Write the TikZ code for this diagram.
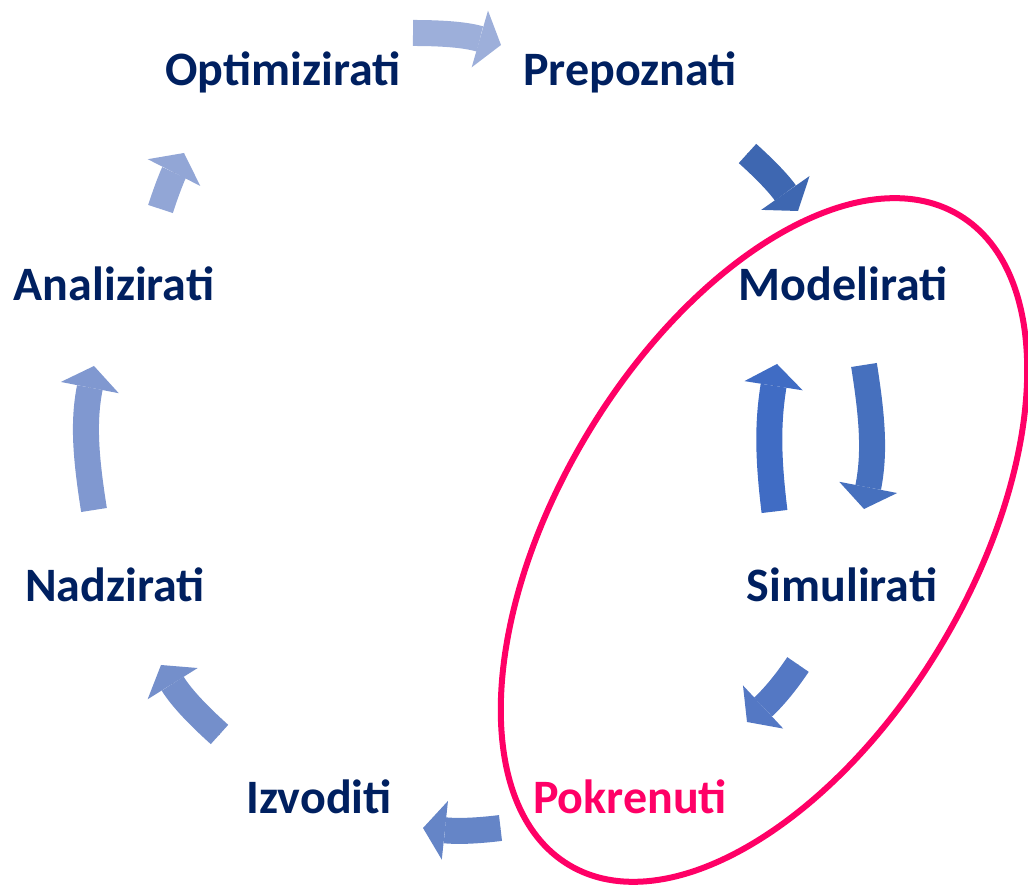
\documentclass[tikz,border=0pt]{standalone}
\usepackage{fontspec}
\setmainfont{Carlito}
\usetikzlibrary{arrows.meta}
\definecolor{navy}{RGB}{0,32,96}
\definecolor{hot}{RGB}{255,0,102}
\definecolor{arA}{RGB}{157,175,218}
\definecolor{arB}{RGB}{62,103,177}
\definecolor{arC}{RGB}{70,112,190}
\definecolor{arD}{RGB}{64,108,196}
\definecolor{arE}{RGB}{84,120,196}
\definecolor{arF}{RGB}{101,133,199}
\definecolor{arG}{RGB}{116,143,203}
\definecolor{arH}{RGB}{128,152,208}
\definecolor{arI}{RGB}{146,166,214}
\begin{document}
\begin{tikzpicture}[x=1pt,y=1pt,line join=round,
	lbl/.style={inner sep=0pt,anchor=base,text=navy,font=\fontsize{48}{52}\selectfont\bfseries},
	blk/.style={line width=26pt,-{Triangle[length=22pt,width=59pt,line width=0pt]},
		preaction={draw,-,shorten >=17pt}}]
	\useasboundingbox (0,0) rectangle (1028,885);
	\draw[hot,line width=6pt,rotate around={59:(764,345)}] (764,345) ellipse [x radius=379,y radius=206];
	\node[lbl] (opt) at (283,799) {Optimizirati};
	\node[lbl] (prep) at (630,799) {Prepoznati};
	\node[lbl] (model) at (843,584) {Modelirati};
	\node[lbl] (anal) at (114,584) {Analizirati};
	\node[lbl] (sim) at (842,283) {Simulirati};
	\node[lbl] (nadz) at (115,283) {Nadzirati};
	\node[lbl] (izv) at (319,71) {Izvoditi};
	\node[lbl,text=hot] (pokr) at (630,71) {Pokrenuti};
	\coordinate (t1) at (413,852); \coordinate (h1) at (501,840);
	\coordinate (t2) at (747.5,731.5); \coordinate (h2) at (798,674);
	\coordinate (t3) at (864,520); \coordinate (h3) at (864,376);
	\coordinate (t4) at (774.5,373.5); \coordinate (h4) at (777,521);
	\coordinate (t5) at (798,220.5); \coordinate (h5) at (747,163);
	\coordinate (t6) at (500.5,57); \coordinate (h6) at (423,57);
	\coordinate (t7) at (219.5,150.5); \coordinate (h7) at (161,220);
	\coordinate (t8) at (94,375); \coordinate (h8) at (94,519);
	\coordinate (t9) at (160.5,676); \coordinate (h9) at (184,732);
	\draw[blk,arA] (t1) to[out=0,in=164] (h1);
	\draw[blk,arB] (t2) to[out=-42,in=125] (h2);
	\draw[blk,arC] (t3) to[out=-81,in=79] (h3);
	\draw[blk,arD] (t4) to[out=97,in=-99] (h4);
	\draw[blk,arE] (t5) to[out=-124,in=43] (h5);
	\draw[blk,arF] (t6) to[out=187,in=-6] (h6);
	\draw[blk,arG] (t7) to[out=138,in=-58] (h7);
	\draw[blk,arH] (t8) to[out=99,in=-101] (h8);
	\draw[blk,arI] (t9) to[out=72,in=243] (h9);
\end{tikzpicture}
\end{document}
